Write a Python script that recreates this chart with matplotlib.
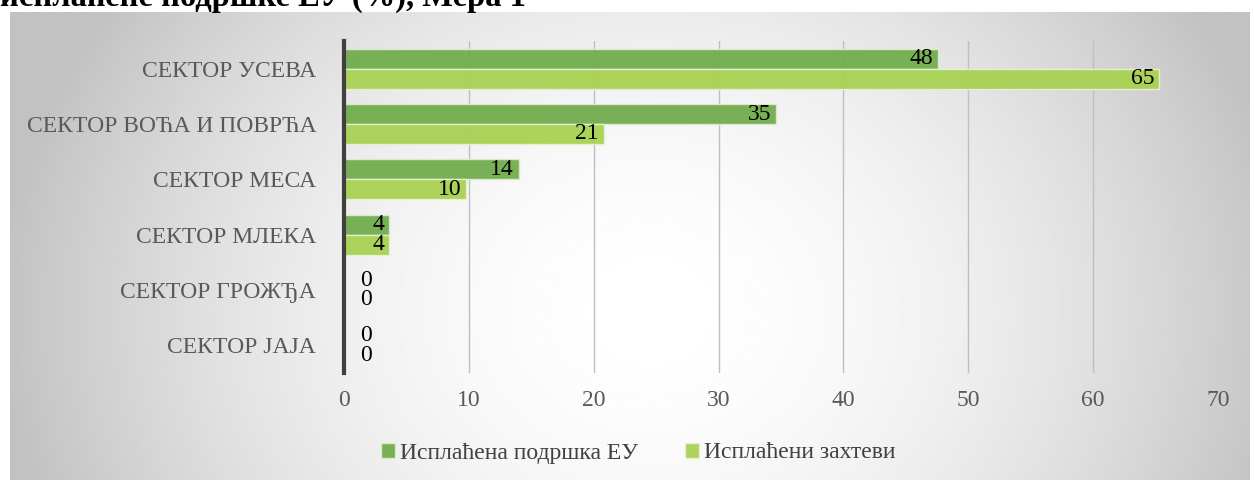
import numpy as np
from matplotlib import pyplot as plt

categories = ["СЕКТОР УСЕВА", "СЕКТОР ВОЋА И ПОВРЋА", "СЕКТОР МЕСА",
              "СЕКТОР МЛЕКА", "СЕКТОР ГРОЖЂА", "СЕКТОР ЈАЈА"]
support_eu = [47.6, 34.6, 14.0, 3.6, 0, 0]
paid_requests = [65.3, 20.8, 9.8, 3.6, 0, 0]
series_names = ["Исплаћена подршка ЕУ", "Исплаћени захтеви"]

plt.rcParams['font.family'] = ['Liberation Serif', 'DejaVu Serif']

W, H = 1254, 483
fig = plt.figure(figsize=(W / 100, H / 100), dpi=100)
fig.patch.set_facecolor('white')

# radial gray background of the chart area
bg = fig.add_axes([10 / W, 3 / H, 1240 / W, 468 / H], zorder=-10)
xx, yy = np.meshgrid(np.linspace(0, 1240, 400), np.linspace(0, 468, 200))
r = np.sqrt(((xx - 640) / 650) ** 2 + ((yy - 300) / 560) ** 2)
shade = 1.0 - 0.24 * np.clip(r, 0, 1) ** 1.8
bg.imshow(shade, cmap='gray', vmin=0, vmax=1, aspect='auto', origin='upper',
          extent=[0, 1, 0, 1])
bg.set_axis_off()

# cut-off title at the very top
fig.text(0, 1 - 6 / H, "исплаћене подршке ЕУ (%), Мера 1", fontsize=23.5,
         fontweight='bold', ha='left', va='baseline', color='black')

ax = fig.add_axes([344 / W, 110 / H, 874 / W, 332 / H])
ax.patch.set_alpha(0)

y = np.arange(len(categories))[::-1]
h = 0.36
dark = '#72AD4E'
light = '#A8D152'
b1 = ax.barh(y + h / 2, support_eu, height=h, color=dark, alpha=0.95,
             edgecolor='#DDEBD0', linewidth=1, label=series_names[0], zorder=3)
b2 = ax.barh(y - h / 2, paid_requests, height=h, color=light, alpha=0.95,
             edgecolor='#E6F1D4', linewidth=1, label=series_names[1], zorder=3)

for bars, vals in ((b1, support_eu), (b2, paid_requests)):
    for bar, v in zip(bars, vals):
        yc = bar.get_y() + bar.get_height() / 2
        txt = "%d" % round(v)
        if v > 0:
            ax.text(v - 0.4, yc, txt, ha='right', va='center', fontsize=17,
                    color='black', zorder=5)
        else:
            ax.text(1.8, yc, txt, ha='center', va='center', fontsize=17,
                    color='black', zorder=5)

ax.set_xlim(0, 70)
ax.set_ylim(-0.5, len(categories) - 0.5)
ax.set_xticks(range(0, 71, 10))
ax.set_yticks(y)
ax.set_yticklabels(categories)
ax.tick_params(axis='both', length=0, labelsize=17, labelcolor='#595959')
ax.tick_params(axis='x', pad=12)
ax.tick_params(axis='y', pad=20)
ax.grid(axis='x', color='#BFBFBF', linewidth=1, zorder=0)
for s in ['top', 'right', 'bottom']:
    ax.spines[s].set_visible(False)
ax.spines['left'].set_color('#404040')
ax.spines['left'].set_linewidth(3)
ax.spines['left'].set_zorder(6)

fig.legend(handles=[b1, b2], loc='center', bbox_to_anchor=(638 / W, 1 - 453 / H),
           ncol=2, frameon=False, fontsize=17, handlelength=0.6, handleheight=0.6,
           handletextpad=0.2, columnspacing=2.0, labelcolor='#404040')

fig.savefig("out.png", dpi=100)
plt.close(fig)
